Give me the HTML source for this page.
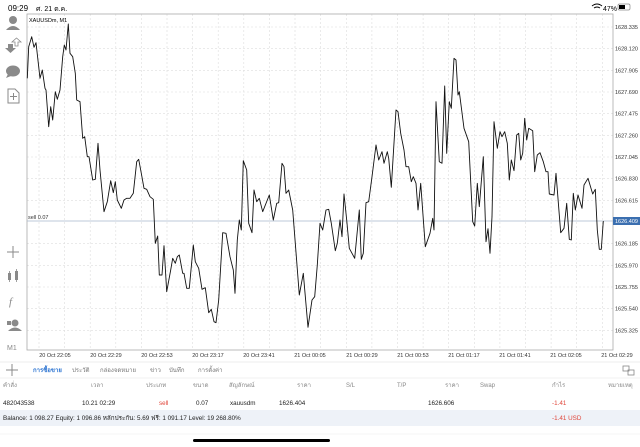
<!DOCTYPE html>
<html><head><meta charset="utf-8"><style>
body{margin:0;width:640px;height:447px;background:#fff;overflow:hidden;font-family:"Liberation Sans","DejaVu Sans",sans-serif;position:relative}
</style></head><body>
<svg width="640" height="447" style="position:absolute;left:0;top:0" font-family="Liberation Sans, DejaVu Sans, sans-serif">
<text x="8" y="11" font-size="8" fill="#000">09:29</text>
<text x="36" y="11" font-size="7" fill="#000">ศ. 21 ต.ค.</text>
<text x="603" y="11" font-size="7" fill="#000">47%</text>
<rect x="618" y="4" width="12" height="6" rx="1.5" fill="none" stroke="#888" stroke-width="0.7"/>
<rect x="619" y="5" width="6" height="4" fill="#000"/>
<path d="M592 6 q5 -4 10 0 M594 8 q3 -2 6 0" stroke="#000" stroke-width="1" fill="none"/>
<g stroke="#ddd" stroke-width="0.6" stroke-dasharray="2,2">
<line x1="27" x2="613" y1="27" y2="27"/><line x1="27" x2="613" y1="48.7" y2="48.7"/><line x1="27" x2="613" y1="70.3" y2="70.3"/><line x1="27" x2="613" y1="92" y2="92"/><line x1="27" x2="613" y1="113.7" y2="113.7"/><line x1="27" x2="613" y1="135.3" y2="135.3"/><line x1="27" x2="613" y1="157" y2="157"/><line x1="27" x2="613" y1="178.7" y2="178.7"/><line x1="27" x2="613" y1="200.3" y2="200.3"/><line x1="27" x2="613" y1="243.7" y2="243.7"/><line x1="27" x2="613" y1="265.3" y2="265.3"/><line x1="27" x2="613" y1="287" y2="287"/><line x1="27" x2="613" y1="308.7" y2="308.7"/><line x1="27" x2="613" y1="330.3" y2="330.3"/>
<line y1="14" y2="350" x1="39" x2="39"/><line y1="14" y2="350" x1="64.6" x2="64.6"/><line y1="14" y2="350" x1="90.2" x2="90.2"/><line y1="14" y2="350" x1="115.8" x2="115.8"/><line y1="14" y2="350" x1="141.4" x2="141.4"/><line y1="14" y2="350" x1="167" x2="167"/><line y1="14" y2="350" x1="192.6" x2="192.6"/><line y1="14" y2="350" x1="218.2" x2="218.2"/><line y1="14" y2="350" x1="243.8" x2="243.8"/><line y1="14" y2="350" x1="269.4" x2="269.4"/><line y1="14" y2="350" x1="295" x2="295"/><line y1="14" y2="350" x1="320.7" x2="320.7"/><line y1="14" y2="350" x1="346.3" x2="346.3"/><line y1="14" y2="350" x1="371.9" x2="371.9"/><line y1="14" y2="350" x1="397.5" x2="397.5"/><line y1="14" y2="350" x1="423.1" x2="423.1"/><line y1="14" y2="350" x1="448.7" x2="448.7"/><line y1="14" y2="350" x1="474.3" x2="474.3"/><line y1="14" y2="350" x1="499.9" x2="499.9"/><line y1="14" y2="350" x1="525.5" x2="525.5"/><line y1="14" y2="350" x1="551.1" x2="551.1"/><line y1="14" y2="350" x1="576.7" x2="576.7"/><line y1="14" y2="350" x1="602.3" x2="602.3"/>
</g>
<rect x="27" y="14" width="586" height="336" fill="none" stroke="#aaa" stroke-width="0.8"/>
<line x1="27" x2="613" y1="221" y2="221" stroke="#a9b8cc" stroke-width="0.8"/>
<text x="28" y="219" font-size="5.5" fill="#333">sell 0.07</text>
<text x="29" y="22" font-size="5.5" fill="#000">XAUUSDm, M1</text>
<polyline fill="none" stroke="#111" stroke-width="0.9" stroke-linejoin="round" points="27.3,78.3 28.7,46.7 31.7,36.7 34,47.3 36,42.7 40,78.3 42.3,70 45,88.3 46,90 48.7,126.7 50.7,106.7 52.7,120 55.3,91.7 57.3,99.3 60,90 62.7,56.7 64.3,45 66,50 68.3,24 70,53.3 72.7,56.7 75.3,73.3 76.7,100 80,101.7 82.7,138.3 84.7,136.7 87.3,156.7 89,156.7 92.7,180 95.3,179.3 98,143.3 100,170 104,211.7 107.3,201.7 110.7,180.7 113.3,192.7 115.3,181.7 117.3,200 121.3,208.3 124,200 126.7,198.3 130,198.3 133.3,193.3 136.7,161.7 138.7,159.3 141.3,173.3 144,188.3 146.7,189.3 150,196.7 153.3,199.3 155.3,243.3 157.7,236 159.3,275 162,275 164,245.7 166.7,291.7 170.7,270 172.7,258.3 175.3,263.3 177.3,256.7 179.3,255 182.7,273.3 184,273.3 186.7,288.3 189.3,288.3 193.3,245 195.3,261.7 198.7,268.3 202,289.3 205.3,287.7 208.7,312.7 211.3,309.3 214,321.7 216,322.7 218.7,300 222.7,232.7 226,233.3 230,256.7 233.3,270 235,293.3 237.3,240 239.3,220 241.3,230 243.3,160.7 246.7,170 248.7,223.3 252,232.7 254,190 256.7,201.7 259.3,198.3 262.7,211.7 269.3,195 273.3,220 276.7,203.3 278.7,202.7 282,163.3 284,166.7 286,193.3 288.7,190 292.7,210 295.3,243.3 299.3,295 303.3,273.3 308,327.3 312,300 314.7,296.7 317.3,265 320,223.3 322.7,230 326,210 328.7,209.3 331.3,223.3 335.3,250.7 337.3,243.3 340,220 342,236.7 344,194 346.7,220 349.3,248.3 354.7,258.3 359.3,210 361.3,259.3 363.3,253.3 366,202.7 368.7,201.7 372,176.7 376,145 378.7,160 382,151.7 384,163.3 387.3,151.7 388.7,158.3 391.3,187.3 396,110 398,111.7 400.7,133.3 404,150 406,166.7 408.7,166.7 411.3,181.7 413.3,176.7 416,183.3 418,210 420.7,183.3 425.3,246.7 430,233.3 432.7,218.3 434,230 436,101.7 439.3,161.7 442,163.3 444.7,86 446.7,153.3 449.3,101.7 451.3,108.3 454,58.3 456,60 458,95 459.3,91.7 464,128.3 468.7,141.7 472.7,221.7 474.7,226 477.3,183.3 479.3,206.7 483.3,156.7 486,241.7 488,228.7 490,253.3 492,216.7 494,121.7 497.3,148.3 500,131.7 502,136.7 504.7,131.7 507.3,143.3 509.3,180 511.3,160 514,170.7 516.7,135 518.7,133.3 520.7,160 522.7,153.3 524.7,118.3 526.7,140 528.7,128.3 532.7,130.7 534.7,171.7 537.3,155 540,152.7 543.3,161.7 546,171.7 548,171.7 549.3,194 554,195 556,173.3 560.7,232.7 564,228.3 566.7,203.3 569.3,239.3 571.3,240 573.3,193.3 575.3,210 578,195 582,208.3 584,185 588,178.3 592.7,194 595.3,189.3 597.3,230 599.3,249.3 601.3,249.3 603.3,221"/>
<g font-size="5.5" fill="#333">
<text x="615" y="29">1628.335</text><text x="615" y="50.7">1628.120</text><text x="615" y="72.3">1627.905</text><text x="615" y="94">1627.690</text><text x="615" y="115.7">1627.475</text><text x="615" y="137.3">1627.260</text><text x="615" y="159">1627.045</text><text x="615" y="180.7">1626.830</text><text x="615" y="202.3">1626.615</text><text x="615" y="245.7">1626.185</text><text x="615" y="267.3">1625.970</text><text x="615" y="289">1625.755</text><text x="615" y="310.7">1625.540</text><text x="615" y="332.3">1625.325</text>
</g>
<rect x="613" y="217" width="27" height="8" fill="#3b6fb0"/>
<text x="615" y="223" font-size="5.5" fill="#fff">1626.409</text>
<g font-size="5.5" fill="#333" text-anchor="middle">
<text x="55" y="357">20 Oct 22:05</text><text x="106" y="357">20 Oct 22:29</text><text x="157" y="357">20 Oct 22:53</text><text x="208" y="357">20 Oct 23:17</text><text x="259" y="357">20 Oct 23:41</text><text x="310" y="357">21 Oct 00:05</text><text x="362" y="357">21 Oct 00:29</text><text x="413" y="357">21 Oct 00:53</text><text x="464" y="357">21 Oct 01:17</text><text x="515" y="357">21 Oct 01:41</text><text x="566" y="357">21 Oct 02:05</text><text x="617" y="357">21 Oct 02:29</text>
</g>
<g fill="#8a8a8a">
<circle cx="13" cy="20" r="4"/><path d="M6 30 q7 -8 14 0 z"/>
<path d="M8 44 h5 v4 h3 l-5.5 5 l-5.5 -5 h3z"/><path d="M15 46 v-4 h-3 l4.5 -4 l4.5 4 h-3 v4z" fill="none" stroke="#8a8a8a" stroke-width="0.8"/>
<ellipse cx="13" cy="71" rx="7" ry="5.5"/><path d="M8 74 l-2 4 l5 -2z"/>
<path d="M8 89 h7 l4 4 v10 h-11z" fill="none" stroke="#8a8a8a" stroke-width="1"/><path d="M13.5 93 v7 M10 96.5 h7" stroke="#8a8a8a" stroke-width="1"/>
<path d="M13 246 v12 M7 252 h12" stroke="#8a8a8a" stroke-width="1"/>
<rect x="8" y="273" width="3" height="7"/><rect x="15" y="271" width="3" height="9"/><path d="M9.5 271 v11 M16.5 269 v13" stroke="#8a8a8a" stroke-width="0.8"/>
<text x="9" y="305" font-size="11" font-style="italic" font-family="Liberation Serif, serif">f</text>
<circle cx="15" cy="323" r="3.5"/><path d="M8 331 q7 -7 14 0z"/><rect x="7" y="321" width="4" height="4"/>
<text x="7" y="350" font-size="7">M1</text>
</g>
<line x1="0" y1="362" x2="640" y2="362" stroke="#e6e6e6" stroke-width="0.8"/>
<path d="M12 364 v12 M6 370 h12" stroke="#888" stroke-width="1"/>
<g font-size="6" fill="#777">
<text x="33" y="372" fill="#2f76d2" font-weight="bold">การซื้อขาย</text>
<text x="72" y="372">ประวัติ</text><text x="100" y="372">กล่องจดหมาย</text><text x="150" y="372">ข่าว</text><text x="169" y="372">บันทึก</text><text x="198" y="372">การตั้งค่า</text>
</g>
<rect x="623" y="366" width="6" height="5" fill="none" stroke="#888" stroke-width="0.8"/><rect x="628" y="370" width="6" height="5" fill="none" stroke="#888" stroke-width="0.8"/>
<line x1="0" y1="378" x2="640" y2="378" stroke="#eee" stroke-width="0.8"/>
<g font-size="6" fill="#888">
<text x="3" y="387">คำสั่ง</text><text x="91" y="387">เวลา</text><text x="146" y="387">ประเภท</text><text x="193" y="387">ขนาด</text><text x="229" y="387">สัญลักษณ์</text><text x="297" y="387">ราคา</text><text x="346" y="387">S/L</text><text x="397" y="387">T/P</text><text x="445" y="387">ราคา</text><text x="480" y="387">Swap</text><text x="552" y="387">กำไร</text><text x="608" y="387">หมายเหตุ</text>
</g>
<g font-size="6.3" fill="#222">
<text x="3" y="405">482043538</text><text x="82" y="405">10.21 02:29</text><text x="159" y="405" fill="#e0463a">sell</text><text x="196" y="405">0.07</text><text x="230" y="405">xauusdm</text><text x="279" y="405">1626.404</text><text x="428" y="405">1626.606</text><text x="552" y="405" fill="#e0463a">-1.41</text>
</g>
<rect x="0" y="410" width="640" height="16" fill="#eef2f8"/>
<text x="3" y="420" font-size="6.3" fill="#222">Balance: 1 098.27 Equity: 1 096.86 หลักประกัน: 5.69 ฟรี: 1 091.17 Level: 19 268.80%</text>
<text x="552" y="420" font-size="6.3" fill="#e0463a">-1.41  USD</text>
<line x1="0" y1="434" x2="640" y2="434" stroke="#f0f0f0" stroke-width="0.8"/>
<rect x="193" y="439" width="137" height="3" rx="1.5" fill="#000"/>
</svg>
</body></html>
